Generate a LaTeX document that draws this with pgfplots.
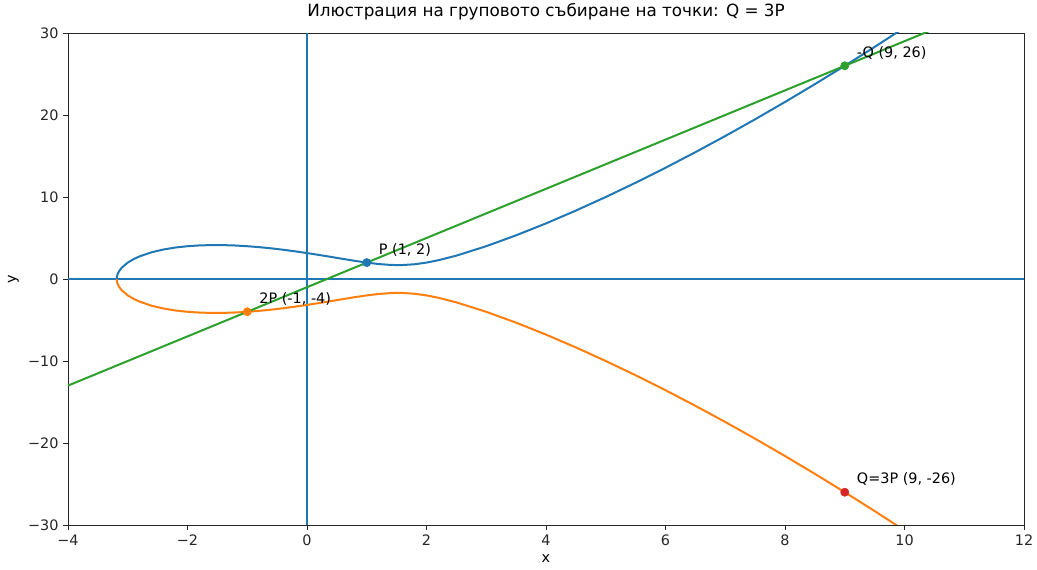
\documentclass[border=0pt]{standalone}
\usepackage{fontspec}
\setmainfont{DejaVu Sans}
\usepackage{pgfplots}
\pgfplotsset{compat=1.18}
\definecolor{C0}{HTML}{1F77B4}
\definecolor{C1}{HTML}{FF7F0E}
\definecolor{C2}{HTML}{2CA02C}
\definecolor{C3}{HTML}{D62728}
\newcommand{\fs}{\fontsize{10.8}{13}\selectfont}
\newcommand{\fst}{\fontsize{12.6}{15}\selectfont}
\begin{document}
\begin{tikzpicture}
\useasboundingbox (-51pt,-33.75pt) rectangle (726.75pt,393.75pt);
\begin{axis}[
  scale only axis, width=717pt, height=369pt,
  xmin=-4, xmax=12, ymin=-30, ymax=30,
  xtick={-4,-2,0,2,4,6,8,10,12},
  xticklabels={−4,−2,0,2,4,6,8,10,12},
  ytick={-30,-20,-10,0,10,20,30},
  yticklabels={−30,−20,−10,0,10,20,30},
  xtick pos=bottom, ytick pos=left,
  tick align=outside, major tick length=3.6pt,
  tick style={black!85, line width=0.6pt},
  axis line style={black!85, line width=0.6pt},
  tick label style={font=\fs, text=black!85},
  title={Илюстрация на груповото събиране на точки: Q = 3P},
  title style={font=\fst, at={(0.5,1)}, anchor=base, yshift=6.5pt},
  xlabel={x}, ylabel={y},
  xlabel style={font=\fs},
  ylabel style={font=\fs},
  clip=true,
]
\addplot[C0, line width=1pt] coordinates {(-4,0) (12,0)};
\addplot[C0, line width=1pt] coordinates {(0,-30) (0,30)};
\addplot[C0, line width=1.5pt, line join=round] coordinates {
(-3.1844,0) (-3.183,0.18) (-3.18,0.321) (-3.17,0.579) (-3.15,0.891) (-3.1,1.382) (-3.0,2.0)
(-2.9,2.431) (-2.8,2.766) (-2.6,3.259) (-2.4,3.602) (-2.2,3.841) (-2.0,4.0) (-1.8,4.095)
(-1.6,4.136) (-1.4,4.130) (-1.2,4.083) (-1.0,4.0) (-0.8,3.884) (-0.6,3.740) (-0.4,3.569)
(-0.2,3.375) (0,3.162) (0.2,2.934) (0.4,2.695) (0.6,2.453) (0.8,2.216) (1.0,2.0) (1.2,1.824)
(1.4,1.716) (1.527,1.694) (1.6,1.702) (1.8,1.798) (2.0,2.0) (2.2,2.291) (2.5,2.850) (3.0,4.0)
(3.5,5.327) (4.0,6.782) (4.5,8.344) (5.0,10.0) (5.5,11.742) (6.0,13.565) (6.5,15.464)
(7.0,17.436) (7.5,19.478) (8.0,21.587) (8.5,23.762) (9.0,26.0) (9.5,28.300) (10.0,30.659) (10.5,33.077)};
\addplot[C1, line width=1.5pt, line join=round] coordinates {
(-3.1844,0) (-3.183,-0.18) (-3.18,-0.321) (-3.17,-0.579) (-3.15,-0.891) (-3.1,-1.382) (-3.0,-2.0)
(-2.9,-2.431) (-2.8,-2.766) (-2.6,-3.259) (-2.4,-3.602) (-2.2,-3.841) (-2.0,-4.0) (-1.8,-4.095)
(-1.6,-4.136) (-1.4,-4.130) (-1.2,-4.083) (-1.0,-4.0) (-0.8,-3.884) (-0.6,-3.740) (-0.4,-3.569)
(-0.2,-3.375) (0,-3.162) (0.2,-2.934) (0.4,-2.695) (0.6,-2.453) (0.8,-2.216) (1.0,-2.0) (1.2,-1.824)
(1.4,-1.716) (1.527,-1.694) (1.6,-1.702) (1.8,-1.798) (2.0,-2.0) (2.2,-2.291) (2.5,-2.850) (3.0,-4.0)
(3.5,-5.327) (4.0,-6.782) (4.5,-8.344) (5.0,-10.0) (5.5,-11.742) (6.0,-13.565) (6.5,-15.464)
(7.0,-17.436) (7.5,-19.478) (8.0,-21.587) (8.5,-23.762) (9.0,-26.0) (9.5,-28.300) (10.0,-30.659) (10.5,-33.077)};
\addplot[C2, line width=1.5pt] coordinates {(-4,-13) (12,35)};
\addplot[only marks, mark=*, mark size=3.1pt, C0] coordinates {(1,2)};
\addplot[only marks, mark=*, mark size=3.1pt, C1] coordinates {(-1,-4)};
\addplot[only marks, mark=*, mark size=3.1pt, C2] coordinates {(9,26)};
\addplot[only marks, mark=*, mark size=3.1pt, C3] coordinates {(9,-26)};
\node[anchor=base west, inner sep=0, font=\fs] at (axis cs:1.2,3) {P (1, 2)};
\node[anchor=base west, inner sep=0, font=\fs] at (axis cs:-0.8,-3) {2P (-1, -4)};
\node[anchor=base west, inner sep=0, font=\fs] at (axis cs:9.2,27) {-Q (9, 26)};
\node[anchor=base west, inner sep=0, font=\fs] at (axis cs:9.2,-25) {Q=3P (9, -26)};
\end{axis}
\end{tikzpicture}
\end{document}
